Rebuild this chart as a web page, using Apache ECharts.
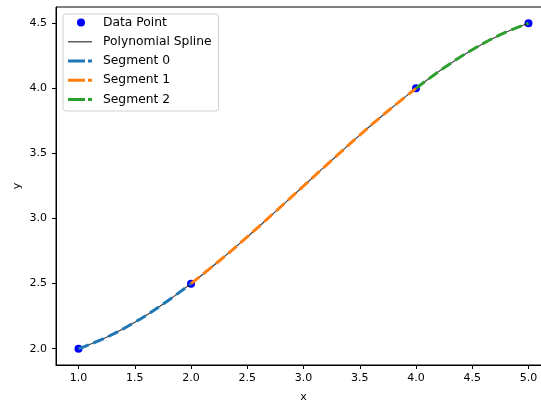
<!DOCTYPE html>
<html>
<head>
<meta charset="utf-8">
<script src="https://cdn.jsdelivr.net/npm/echarts@6/dist/echarts.min.js"></script>
<style>
  html, body { margin: 0; padding: 0; background: #fff; }
  #chart { width: 541px; height: 402px; }
</style>
</head>
<body>
<div id="chart"></div>
<script>
  var chart = echarts.init(document.getElementById('chart'));

  // data points
  var pointX = [1, 2, 4, 5];
  var pointY = [2.0, 2.5, 4.0, 4.5];

  // spline
  var splineX = [1, 1.25, 1.5, 1.75, 2, 2.25, 2.5, 2.75, 3, 3.25, 3.5, 3.75, 4, 4.25, 4.5, 4.75, 5];
  var splineY = [2.0, 2.088, 2.203, 2.342, 2.5, 2.674, 2.859, 3.053, 3.25, 3.447, 3.641, 3.826, 4.0, 4.158, 4.297, 4.412, 4.5];

  // segment boundaries (index into splineX)
  var segStart = [0, 4, 12];
  var segEnd = [4, 12, 16];
  var segColors = ['#1f77b4', '#ff7f0e', '#2ca02c'];

  var xTicks = [1.0, 1.5, 2.0, 2.5, 3.0, 3.5, 4.0, 4.5, 5.0];
  var yTicks = [2.0, 2.5, 3.0, 3.5, 4.0, 4.5];

  var font = 'DejaVu Sans';

  // legend icons, drawn in a 24x13 box (tiny corner dots keep the box size)
  var corners = 'M0,0h0.01v0.01h-0.01z M23.99,12.99h0.01v0.01h-0.01z ';
  var iconDot = 'path://' + corners + 'M9,6.5a4,4 0 1,0 8,0a4,4 0 1,0 -8,0z';
  var iconLine = 'path://' + corners + 'M0,5.75h24v1.5h-24z';
  var iconDash = 'path://' + corners + 'M0,5h17v3h-17z M20,5h4v3h-4z';

  function pairs(xs, ys, a, b) {
    var out = [];
    for (var i = a; i <= b; i++) out.push([xs[i], ys[i]]);
    return out;
  }

  var series = [{
    name: 'Data Point',
    type: 'scatter',
    symbol: 'circle',
    symbolSize: 8,
    itemStyle: { color: '#0000ff', opacity: 1 },
    data: pointX.map(function (x, i) { return [x, pointY[i]]; })
  }, {
    name: 'Polynomial Spline',
    type: 'line',
    smooth: 0.4,
    symbol: 'none',
    lineStyle: { color: '#000', width: 1.2, opacity: 0.75 },
    itemStyle: { color: '#000' },
    data: pairs(splineX, splineY, 0, splineX.length - 1)
  }];

  for (var s = 0; s < 3; s++) {
    series.push({
      name: 'Segment ' + s,
      type: 'line',
      smooth: 0.4,
      symbol: 'none',
      lineStyle: { color: segColors[s], width: 3, type: [11, 5] },
      itemStyle: { color: segColors[s] },
      data: pairs(splineX, splineY, segStart[s], segEnd[s])
    });
  }

  var legendData = [
    { name: 'Data Point', icon: iconDot, itemStyle: { color: '#0000ff' } },
    { name: 'Polynomial Spline', icon: iconLine, itemStyle: { color: '#5f5f5f' } }
  ];
  for (var k = 0; k < 3; k++) {
    legendData.push({ name: 'Segment ' + k, icon: iconDash, itemStyle: { color: segColors[k] } });
  }

  var option = {
    animation: false,
    textStyle: { fontFamily: font },
    grid: {
      left: 56, top: 7, width: 495, height: 358,
      outerBoundsMode: 'none',
      containLabel: false,
      show: true, borderColor: '#000', borderWidth: 1
    },
    legend: {
      orient: 'vertical',
      left: 63,
      top: 14,
      padding: [2, 7, 5, 5],
      itemWidth: 24,
      itemHeight: 13,
      itemGap: 6.25,
      backgroundColor: 'rgba(255,255,255,0.8)',
      borderColor: '#d0d0d0',
      borderWidth: 1,
      borderRadius: 3,
      textStyle: { fontFamily: font, fontSize: 12.3, color: '#000', padding: [0, 0, 0, 6], lineHeight: 13 },
      data: legendData
    },
    xAxis: {
      type: 'value',
      min: 0.8,
      max: 5.2,
      name: 'x',
      nameLocation: 'middle',
      nameGap: 27,
      nameMoveOverlap: false,
      nameTextStyle: { fontFamily: font, fontSize: 11, color: '#000' },
      axisLine: { show: true, lineStyle: { color: '#000' } },
      axisTick: { show: true, length: 4, customValues: xTicks, lineStyle: { color: '#000' } },
      axisLabel: {
        customValues: xTicks, margin: 8, fontSize: 11, color: '#000', fontFamily: font,
        formatter: function (v) { return v.toFixed(1); }
      },
      splitLine: { show: false }
    },
    yAxis: {
      type: 'value',
      min: 1.875,
      max: 4.625,
      name: 'y',
      nameLocation: 'middle',
      nameGap: 33,
      nameMoveOverlap: false,
      nameTextStyle: { fontFamily: font, fontSize: 11, color: '#000' },
      axisLine: { show: true, lineStyle: { color: '#000' } },
      axisTick: { show: true, length: 4, customValues: yTicks, lineStyle: { color: '#000' } },
      axisLabel: {
        customValues: yTicks, margin: 9, fontSize: 11, color: '#000', fontFamily: font,
        formatter: function (v) { return v.toFixed(1); }
      },
      splitLine: { show: false }
    },
    series: series
  };

  chart.setOption(option);
  window.onresize = function () {
    chart.resize();
  };
</script>
</body>
</html>
